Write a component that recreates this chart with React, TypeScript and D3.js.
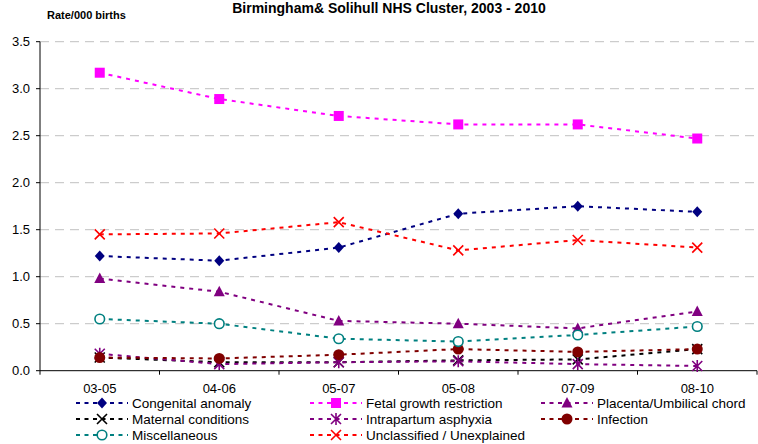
import React from "react";
import * as d3 from "d3";

const categories = ["03-05", "04-06", "05-07", "05-08", "07-09", "08-10"];
const seriesNames = [
  "Congenital anomaly",
  "Fetal growth restriction",
  "Placenta/Umbilical chord",
  "Maternal conditions",
  "Intrapartum asphyxia",
  "Infection",
  "Miscellaneous",
  "Unclassified / Unexplained",
];
const congenital = [1.22, 1.17, 1.31, 1.67, 1.75, 1.69];
const fetal = [3.17, 2.89, 2.71, 2.62, 2.62, 2.47];
const placenta = [0.98, 0.84, 0.53, 0.5, 0.45, 0.63];
const maternal = [0.14, 0.09, 0.09, 0.11, 0.12, 0.23];
const intrapartum = [0.18, 0.07, 0.09, 0.1, 0.07, 0.05];
const infection = [0.14, 0.13, 0.17, 0.23, 0.2, 0.23];
const miscellaneous = [0.55, 0.5, 0.34, 0.31, 0.38, 0.47];
const unclassified = [1.45, 1.46, 1.58, 1.28, 1.39, 1.31];
const yTicks = [0, 0.5, 1, 1.5, 2, 2.5, 3, 3.5];

const seriesValues = [congenital, fetal, placenta, maternal, intrapartum, infection, miscellaneous, unclassified];
const colors = ["#000080", "#FF00FF", "#800080", "#000000", "#800080", "#800000", "#008080", "#FF0000"];
const markers = ["diamond", "square", "triangle", "x", "asterisk", "dot", "ring", "x"];

const W = 758;
const H = 444;
const FONT = "'Liberation Sans', Arial, sans-serif";

function Marker({ type, x, y, color }: { type: string; x: number; y: number; color: string }) {
  const t = `translate(${x},${y})`;
  switch (type) {
    case "diamond":
      return <path transform={t} d="M0,-5.5L5,0L0,5.5L-5,0Z" fill={color} />;
    case "square":
      return <rect x={x - 5} y={y - 5} width={10} height={10} fill={color} />;
    case "triangle":
      return <path transform={t} d="M0,-6L5.5,4.5L-5.5,4.5Z" fill={color} />;
    case "x":
      return <path transform={t} d="M-5,-5L5,5M-5,5L5,-5" stroke={color} strokeWidth={1.6} fill="none" />;
    case "asterisk":
      return <path transform={t} d="M-5,-5L5,5M-5,5L5,-5M0,-6L0,6" stroke={color} strokeWidth={1.6} fill="none" />;
    case "dot":
      return <circle cx={x} cy={y} r={5.5} fill={color} />;
    case "ring":
      return <circle cx={x} cy={y} r={4.8} fill="white" stroke={color} strokeWidth={1.6} />;
  }
  return null;
}

export default function App() {
  const left = 40;
  const right = 757;
  const top = 41.7;
  const bottom = 370.7;
  const x = d3.scaleBand<string>().domain(categories).range([left, right]);
  const y = d3.scaleLinear().domain([0, 3.5]).range([bottom, top]);
  const cx = (c: string) => (x(c) as number) + x.bandwidth() / 2;
  const line = d3
    .line<number>()
    .x((_, i) => cx(categories[i]))
    .y((d) => y(d));

  const legendCols = [76, 310, 541];
  const legendRows = [403, 419, 435];

  return (
    <svg
      width={W}
      height={H}
      style={{ position: "absolute", left: 0, top: 0, background: "white" }}
      fontFamily={FONT}
    >
      <rect width={W} height={H} fill="white" />
      <text x={389} y={12.5} textAnchor="middle" fontWeight="bold" fontSize={14}>
        Birmingham&amp; Solihull NHS Cluster, 2003 - 2010
      </text>
      <text x={47} y={18.5} fontWeight="bold" fontSize={11}>
        Rate/000 births
      </text>
      {/* grid */}
      {yTicks.slice(1).map((t) => (
        <line
          key={t}
          x1={left}
          x2={right}
          y1={y(t)}
          y2={y(t)}
          stroke="#c0c0c0"
          strokeWidth={1}
          strokeDasharray="9,6"
        />
      ))}
      {/* axes */}
      <line x1={left} x2={left} y1={top} y2={bottom} stroke="#000" />
      <line x1={left} x2={right} y1={bottom} y2={bottom} stroke="#000" />
      {yTicks.map((t) => (
        <g key={t}>
          <line x1={left - 4} x2={left} y1={y(t)} y2={y(t)} stroke="#000" />
          <text x={30} y={y(t) + 4.5} textAnchor="end" fontSize={13}>
            {t.toFixed(1)}
          </text>
        </g>
      ))}
      {categories.map((c, i) => (
        <line
          key={"t" + i}
          x1={(x(c) as number)}
          x2={(x(c) as number)}
          y1={bottom}
          y2={bottom + 4}
          stroke="#000"
        />
      ))}
      <line x1={right} x2={right} y1={bottom} y2={bottom + 4} stroke="#000" />
      {categories.map((c) => (
        <text key={c} x={cx(c)} y={392.5} textAnchor="middle" fontSize={13}>
          {c}
        </text>
      ))}
      {/* series */}
      {seriesValues.map((vals, si) => (
        <g key={si}>
          <path
            d={line(vals) as string}
            fill="none"
            stroke={colors[si]}
            strokeWidth={2}
            strokeDasharray="4,5"
          />
          {vals.map((v, i) => (
            <Marker key={i} type={markers[si]} x={cx(categories[i])} y={y(v)} color={colors[si]} />
          ))}
        </g>
      ))}
      {/* legend */}
      <rect x={70} y={395.5} width={688} height={48.5} fill="white" />
      {seriesNames.map((name, i) => {
        const col = i % 3;
        const row = Math.floor(i / 3);
        const lx = legendCols[col];
        const ly = legendRows[row];
        return (
          <g key={name}>
            <line
              x1={lx}
              x2={lx + 52}
              y1={ly}
              y2={ly}
              stroke={colors[i]}
              strokeWidth={2}
              strokeDasharray="4,4.5"
            />
            <Marker type={markers[i]} x={lx + 26} y={ly} color={colors[i]} />
            <text x={lx + 56} y={ly + 4.8} fontSize={13.5}>
              {name}
            </text>
          </g>
        );
      })}
    </svg>
  );
}
